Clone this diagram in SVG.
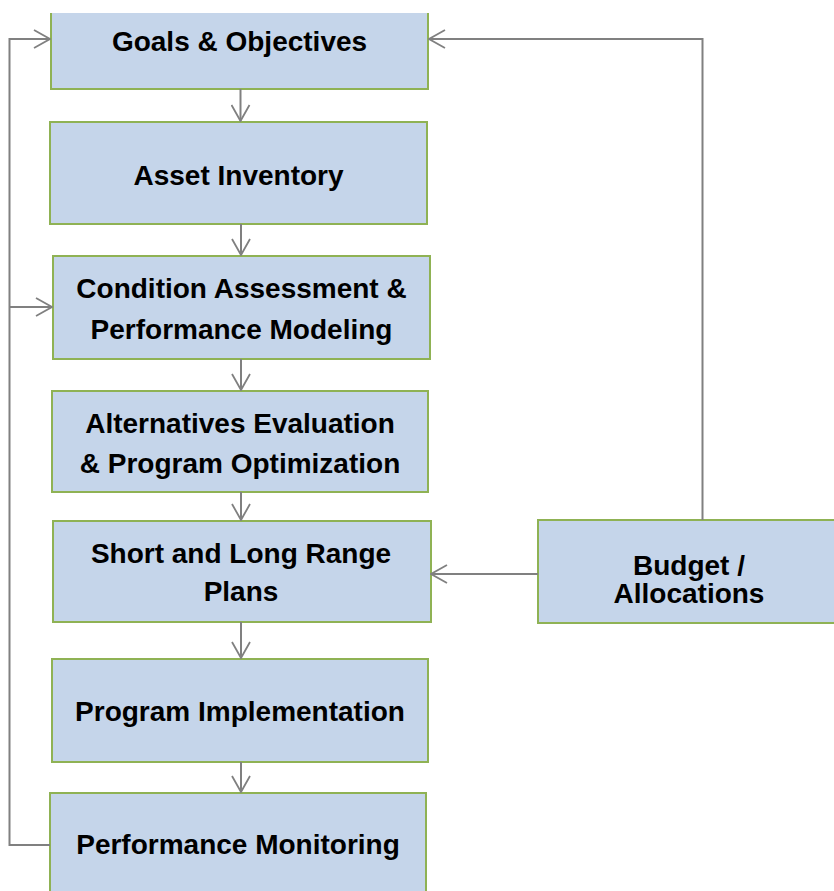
<svg xmlns="http://www.w3.org/2000/svg" width="834" height="891" viewBox="0 0 834 891">
  <style>
    .box { fill: #C5D5EA; stroke: #8FB254; stroke-width: 2; }
    .edge { fill: none; stroke: #8FB254; stroke-width: 2; }
    .lbl { font-family: "Liberation Sans", Arial, sans-serif; font-weight: bold; font-size: 28px; fill: #000; text-anchor: middle; }
    .wire { fill: none; stroke: #808080; stroke-width: 2; }
  </style>
  <defs>
    <marker id="open" viewBox="0 0 18 20" refX="17" refY="10" markerWidth="18" markerHeight="20" markerUnits="userSpaceOnUse" orient="auto">
      <path d="M1,1 L17,10 L1,19" fill="none" stroke="#808080" stroke-width="1.8"/>
    </marker>
  </defs>
  <rect width="834" height="891" fill="#ffffff"/>

  <!-- process nodes -->
  <g id="goals">
    <rect x="51" y="13" width="377" height="76" fill="#C5D5EA"/>
    <path class="edge" d="M51,13 V89 H428 V13"/>
    <text class="lbl" x="239.5" y="51">Goals &amp; Objectives</text>
  </g>
  <g id="inventory">
    <rect class="box" x="50" y="122" width="377" height="102"/>
    <text class="lbl" x="238.5" y="185">Asset Inventory</text>
  </g>
  <g id="condition">
    <rect class="box" x="53" y="256" width="377" height="103"/>
    <text class="lbl" x="241.5" y="298">Condition Assessment &amp;</text>
    <text class="lbl" x="241.5" y="339">Performance Modeling</text>
  </g>
  <g id="alternatives">
    <rect class="box" x="52" y="391" width="376" height="101"/>
    <text class="lbl" x="240" y="433">Alternatives Evaluation</text>
    <text class="lbl" x="240" y="473">&amp; Program Optimization</text>
  </g>
  <g id="plans">
    <rect class="box" x="53" y="521" width="378" height="101"/>
    <text class="lbl" x="241" y="563">Short and Long Range</text>
    <text class="lbl" x="241" y="601">Plans</text>
  </g>
  <g id="implementation">
    <rect class="box" x="52" y="659" width="376" height="103"/>
    <text class="lbl" x="240" y="721">Program Implementation</text>
  </g>
  <g id="monitoring">
    <rect x="50" y="793" width="376" height="98" fill="#C5D5EA"/>
    <path class="edge" d="M50,891 V793 H426 V891"/>
    <text class="lbl" x="238" y="854">Performance Monitoring</text>
  </g>
  <g id="budget">
    <rect x="538" y="520" width="296" height="103" fill="#C5D5EA"/>
    <path class="edge" d="M834,520 H538 V623 H834"/>
    <text class="lbl" x="689" y="575">Budget /</text>
    <text class="lbl" x="689" y="603">Allocations</text>
  </g>

  <!-- connectors -->
  <g id="connectors">
    <path class="wire" d="M240.5,89 V121" marker-end="url(#open)"/>
    <path class="wire" d="M241,224 V255" marker-end="url(#open)"/>
    <path class="wire" d="M241,359 V390" marker-end="url(#open)"/>
    <path class="wire" d="M241,492 V520" marker-end="url(#open)"/>
    <path class="wire" d="M241,622 V658" marker-end="url(#open)"/>
    <path class="wire" d="M241,762 V792" marker-end="url(#open)"/>
    <!-- budget feeds plans and goals -->
    <path class="wire" d="M538,574 H431" marker-end="url(#open)"/>
    <path class="wire" d="M702.5,520 V39 H429" marker-end="url(#open)"/>
    <!-- monitoring feedback loop -->
    <path class="wire" d="M50,845 H9.5 V39 H50" marker-end="url(#open)"/>
    <path class="wire" d="M9.5,307 H52" marker-end="url(#open)"/>
  </g>
</svg>
